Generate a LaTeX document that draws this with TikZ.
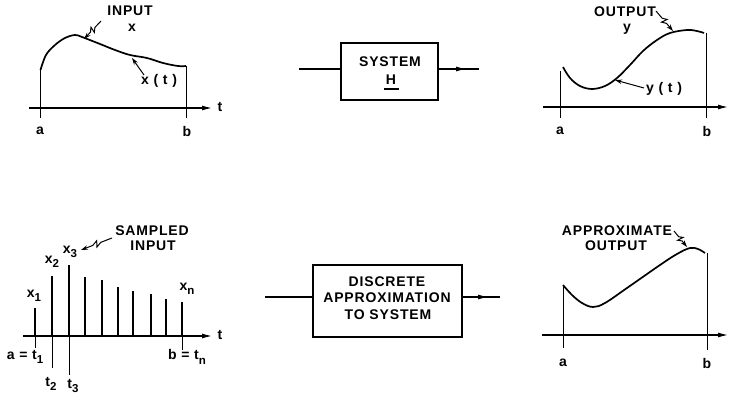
\documentclass[tikz,border=0pt]{standalone}
\usepackage{fontspec}
\setmainfont{Liberation Sans}[LetterSpace=6]
\usetikzlibrary{arrows.meta,calc,decorations.markings}
\newcommand\lsub[1]{\raisebox{-0.6ex}{\fontsize{11.5}{11.5}\selectfont #1}}
\newcommand\zigarrow[2]{\draw[leader] (#1) -- ($(#1)!0.36!(#2)$) -- ($(#1)!0.52!(#2)!3pt!90:(#2)$) -- ($(#1)!0.46!(#2)!3pt!-90:(#2)$) -- ($(#1)!0.62!(#2)$) -- (#2);}
\tikzset{
  lbl/.style={inner sep=0pt, font=\fontsize{14}{16}\selectfont\bfseries},
  axis/.style={line width=1.2pt, -{Latex[length=10pt,width=5pt]}},
  thin/.style={line width=0.7pt},
  curve/.style={line width=1.7pt},
  spike/.style={line width=1.5pt},
  leader/.style={line width=1pt, -{Stealth[length=7pt,width=4.5pt]}},
  blk/.style={draw, line width=1.2pt, inner sep=0pt},
  midarrow/.style={line width=1.2pt, postaction={decorate}, decoration={markings, mark=at position 0.68 with {\arrow{Latex[length=10pt,width=5pt]}}}}
}
\begin{document}
\begin{tikzpicture}[x=1pt,y=-1pt]
\useasboundingbox (0,0) rectangle (732,401);
% ---------- top left: input ----------
\coordinate (ax1s) at (29,108); \coordinate (ax1e) at (212,108);
\draw[axis] (ax1s) -- (ax1e);
\node[lbl] (t1) at (220,107) {t};
\draw[thin] (40,70) -- (40,118);
\draw[thin] (186,66) -- (186,118);
\node[lbl] (a1) at (40,131) {a};
\node[lbl] (b1) at (187,131) {b};
\draw[curve] plot[smooth, tension=0.6] coordinates {(40.5,70) (46,55) (55,45) (65,38) (75,35) (82,37) (100,44) (115,50) (130,55) (147,58) (163,63) (178,66) (186,66)};
\node[lbl] (inlab) at (130,11) {INPUT};
\node[lbl] (inx) at (132,28) {x};
\coordinate (inS) at (101,21); \coordinate (inE) at (84,39);
\zigarrow{inS}{inE}
\node[lbl] (xt) at (159,81) {x ( t )};
\coordinate (xtS) at (144,75); \coordinate (xtE) at (132,58);
\draw[leader] (xtS) -- (xtE);
% ---------- top middle: system ----------
\node[blk, minimum width=97pt, minimum height=57pt] (sysbox) at (389.5,71.5) {};
\node[lbl] (systxt) at (390,62) {SYSTEM};
\node[lbl] (htxt) at (391,80) {H};
\draw[line width=1.1pt] (384,89) -- (399,89);
\coordinate (sin) at (299,69); \coordinate (sout) at (479,69);
\draw[line width=1.2pt] (sin) -- (sin -| sysbox.west);
\draw[midarrow] (sout -| sysbox.east) -- (sout);
% ---------- top right: output ----------
\draw[axis] (543,107) -- (728,107);
\draw[thin] (560,71) -- (560,118);
\draw[thin] (706,33) -- (706,118);
\node[lbl] (a2) at (560,131) {a};
\node[lbl] (b2) at (707,131) {b};
\draw[curve] plot[smooth, tension=0.6] coordinates {(563,67) (570,78) (580,86) (592,89) (605,86) (617,78) (630,65) (643,51) (657,40) (670,33) (687,30) (697,31) (704,33)};
\node[lbl] (outlab) at (625,12) {OUTPUT};
\node[lbl] (outy) at (627,29) {y};
\coordinate (oS) at (656,11); \coordinate (oE) at (673,31);
\zigarrow{oS}{oE}
\node[lbl] (yt) at (664,89) {y ( t )};
\coordinate (ytS) at (644,88); \coordinate (ytE) at (615,80);
\draw[leader] (ytS) -- (ytE);
% ---------- bottom left: sampled input ----------
\draw[axis] (23,336) -- (212,336);
\node[lbl] (t3) at (220,335) {t};
\foreach \x/\y in {35/308, 52/276, 69/265, 85/277, 102/280, 118/287, 133/291, 151/294, 166/299, 182/302}
  \draw[spike] (\x,336) -- (\x,\y);
\draw[thin] (35,336) -- (35,348);
\draw[thin] (52,336) -- (52,368);
\draw[thin] (69,336) -- (69,375);
\draw[thin] (182,336) -- (182,350);
\node[lbl] (x1) at (34,296) {x\lsub{1}};
\node[lbl] (x2) at (52,262) {x\lsub{2}};
\node[lbl] (x3) at (70,252) {x\lsub{3}};
\node[lbl] (xn) at (187,289) {x\lsub{n}};
\node[lbl] (samp) at (152,231) {SAMPLED};
\node[lbl] (sinp) at (153,246) {INPUT};
\coordinate (sS) at (112,238); \coordinate (sE) at (81,250);
\zigarrow{sS}{sE}
\node[lbl] (at1) at (25,357) {a = t\lsub{1}};
\node[lbl] (t2) at (51,384) {t\lsub{2}};
\node[lbl] (t3l) at (73,386) {t\lsub{3}};
\node[lbl] (btn) at (187,357) {b = t\lsub{n}};
% ---------- bottom middle: discrete approximation ----------
\node[blk, minimum width=149pt, minimum height=72pt] (apbox) at (387.5,301) {};
\node[lbl] (d1) at (387,282) {DISCRETE};
\node[lbl] (d2) at (387,298) {APPROXIMATION};
\node[lbl] (d3) at (388,315) {TO SYSTEM};
\coordinate (ain) at (265,297); \coordinate (aout) at (500,297);
\draw[line width=1.2pt] (ain) -- (ain -| apbox.west);
\draw[midarrow] (aout -| apbox.east) -- (aout);
% ---------- bottom right: approximate output ----------
\draw[axis] (542,335) -- (728,335);
\draw[thin] (563,285) -- (563,348);
\draw[thin] (707,253) -- (707,350);
\node[lbl] (a4) at (563,363) {a};
\node[lbl] (b4) at (707,363) {b};
\draw[curve] plot[smooth, tension=0.6] coordinates {(563,285) (572,295) (582,303) (593,307) (605,303) (627,288) (660,265) (677,254) (690,248) (698,249) (705,253)};
\node[lbl] (apx) at (617,231) {APPROXIMATE};
\node[lbl] (apo) at (616,246) {OUTPUT};
\coordinate (pS) at (674,231); \coordinate (pE) at (687,247);
\zigarrow{pS}{pE}
\end{tikzpicture}
\end{document}
